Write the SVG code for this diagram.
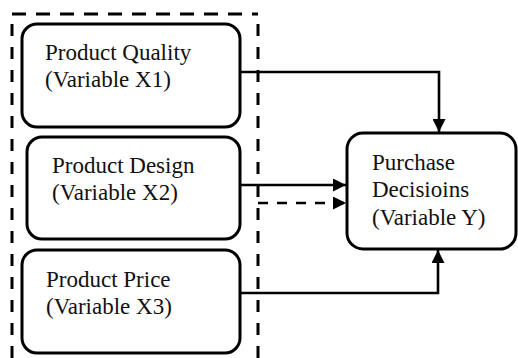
<svg xmlns="http://www.w3.org/2000/svg" width="518" height="358" viewBox="0 0 518 358">
  <style>
    .box { fill: #ffffff; stroke: #000000; stroke-width: 3; }
    .label { font-family: "Liberation Serif", "Times New Roman", serif; font-size: 23px; fill: #111111; }
    .frame { fill: none; stroke: #000000; stroke-width: 3; }
    .wire { fill: none; stroke: #000000; stroke-width: 2.6; }
    .dash { stroke-dasharray: 10 9; }
  </style>
  <defs>
    <marker id="arrow" viewBox="0 0 10 10" refX="10" refY="5" markerWidth="13" markerHeight="13" markerUnits="userSpaceOnUse" orient="auto">
      <path d="M0,0 L10,5 L0,10 Z" fill="#000000"/>
    </marker>
  </defs>

  <!-- dashed grouping frame around the independent variables (open at the bottom) -->
  <g id="group-frame">
    <line class="frame" x1="12" y1="14" x2="258" y2="14" stroke-dasharray="14 10"/>
    <line class="frame" x1="12" y1="24" x2="12" y2="358" stroke-dasharray="12 11"/>
    <line class="frame" x1="258" y1="24" x2="258" y2="358" stroke-dasharray="12 11"/>
  </g>

  <g id="connectors">
    <path class="wire" d="M240,72 H439 V132" marker-end="url(#arrow)"/>
    <path class="wire" d="M240,185 H346" marker-end="url(#arrow)"/>
    <path class="wire dash" d="M258,203 H346" marker-end="url(#arrow)"/>
    <path class="wire" d="M240,293 H438 V250" marker-end="url(#arrow)"/>
  </g>

  <g id="product-quality">
    <rect class="box" x="22" y="24" width="218" height="103" rx="15"/>
    <text class="label" x="45" y="60">Product Quality</text>
    <text class="label" x="45" y="87">(Variable X1)</text>
  </g>

  <g id="product-design">
    <rect class="box" x="27" y="137" width="213" height="102" rx="15"/>
    <text class="label" x="52" y="173">Product Design</text>
    <text class="label" x="52" y="200">(Variable X2)</text>
  </g>

  <g id="product-price">
    <rect class="box" x="22" y="250" width="218" height="103" rx="15"/>
    <text class="label" x="46" y="287">Product Price</text>
    <text class="label" x="46" y="314">(Variable X3)</text>
  </g>

  <g id="purchase-decisions">
    <rect class="box" x="347" y="133" width="169" height="116" rx="16"/>
    <text class="label" x="372" y="170">Purchase</text>
    <text class="label" x="372" y="197">Decisioins</text>
    <text class="label" x="372" y="225">(Variable Y)</text>
  </g>
</svg>
